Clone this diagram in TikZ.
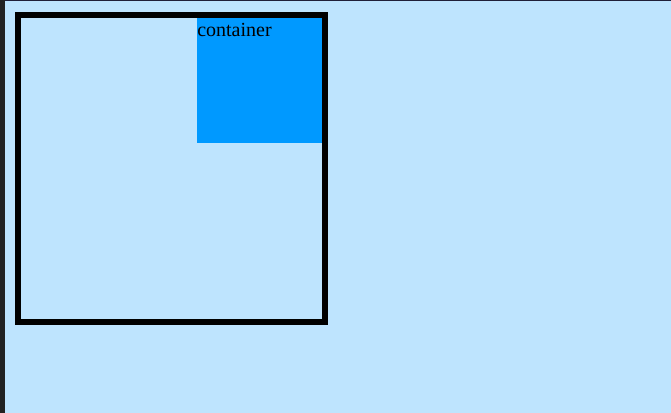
\documentclass[tikz,border=0pt]{standalone}
\usepackage{fontspec}
\setmainfont{Liberation Serif}
\usetikzlibrary{positioning}
\definecolor{pagebg}{HTML}{BEE4FE}
\definecolor{boxblue}{HTML}{0099FF}
\definecolor{edgegray}{HTML}{222222}
\tikzset{
    outerbox/.style = {rectangle, draw=black, line width=4.5pt, minimum width=230.25pt, minimum height=230.25pt, inner sep=0pt},
    bluebox/.style  = {rectangle, fill=boxblue, minimum width=93.75pt, minimum height=93.75pt, inner sep=0pt},
    boxlabel/.style = {inner sep=0pt, font=\fontsize{15pt}{17pt}\selectfont, text=black}
}
\begin{document}
\begin{tikzpicture}[x=0.75pt, y=-0.75pt]
        % Page
        \fill[pagebg] (0,0) rectangle (671,413);
        \fill[edgegray] (0,0) rectangle (5,413);
        \fill[edgegray!90!blue] (5,0) rectangle (671,1);
        \useasboundingbox (0,0) rectangle (671,413);

        % Outer Block
        \node[outerbox] (outer) at (171.5,168.5) {};

        % Container Block
        \node[bluebox, anchor=north west] (container) at (197,18) {};
        \node[boxlabel, anchor=base west] (label) at (197,36.5) {container};

    \end{tikzpicture}
\end{document}
